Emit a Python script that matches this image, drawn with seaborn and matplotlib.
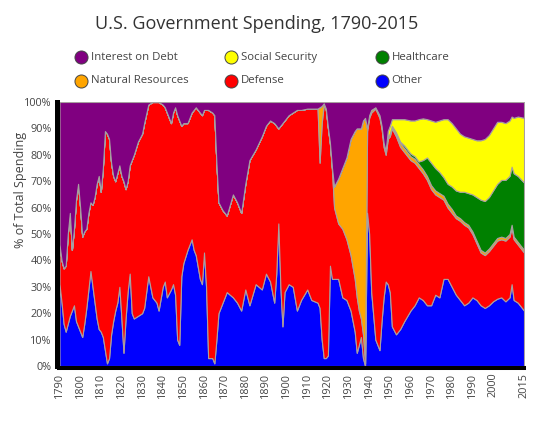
import matplotlib
matplotlib.use("Agg")
import matplotlib.pyplot as plt
import seaborn as sns
import pandas as pd
from matplotlib.lines import Line2D

years = [1790, 1791, 1792, 1793, 1794, 1795, 1796, 1797, 1798, 1799,
         1800, 1801, 1802, 1803, 1804, 1805, 1806, 1807, 1808, 1809,
         1810, 1811, 1812, 1813, 1814, 1815, 1816, 1817, 1818, 1819,
         1820, 1821, 1822, 1823, 1824, 1825, 1826, 1828, 1830, 1831,
         1833, 1835, 1837, 1838, 1840, 1841, 1842, 1844, 1845, 1846,
         1847, 1848, 1849, 1850, 1852, 1854, 1855, 1856, 1858, 1859,
         1860, 1861, 1862, 1864, 1865, 1866, 1867, 1869, 1871, 1874,
         1876, 1878, 1880, 1882, 1885, 1888, 1890, 1892, 1894, 1895,
         1896, 1897, 1898, 1899, 1901, 1903, 1905, 1907, 1910, 1912,
         1915, 1916, 1917, 1918, 1919, 1920, 1921, 1922, 1923, 1925,
         1927, 1929, 1931, 1933, 1934, 1935, 1936, 1937, 1938, 1939,
         1940, 1941, 1943, 1945, 1946, 1947, 1948, 1949, 1950, 1951,
         1953, 1955, 1957, 1960, 1962, 1964, 1966, 1968, 1970, 1972,
         1974, 1976, 1978, 1980, 1982, 1984, 1986, 1988, 1990, 1992,
         1994, 1996, 1998, 2000, 2002, 2004, 2006, 2008, 2009, 2010,
         2012, 2015]

other = [31, 24, 16, 13, 16, 19, 21, 23, 17, 15,
         13, 11, 16, 22, 29, 36, 30, 24, 18, 14,
         13, 11, 6, 1, 3, 12, 17, 21, 24, 30,
         18, 5, 18, 28, 35, 20, 18, 19, 20, 22,
         34, 26, 24, 21, 30, 32, 26, 29, 31, 27,
         10, 8, 34, 39, 44, 48, 44, 42, 33, 31,
         43, 30, 3, 3, 1, 10, 20, 24, 28, 26,
         24, 21, 29, 23, 31, 29, 35, 32, 24, 35,
         54, 30, 15, 28, 31, 30, 21, 25, 29, 25,
         24, 22, 10, 3, 3, 4, 38, 33, 33, 33,
         26, 25, 21, 13, 5, 8, 11, 3, 0, 58,
         50, 28, 10, 6, 17, 26, 32, 31, 28, 15,
         12, 14, 17, 21, 23, 26, 25, 23, 23, 27,
         26, 33, 33, 30, 27, 25, 23, 24, 26, 25,
         23, 22, 23, 24.5, 25.5, 26, 24.5, 26, 31, 25,
         24, 21]

defense = [15, 16, 21, 25, 34, 39, 23, 29, 46, 54,
           47, 38, 35, 30, 29, 26, 31, 40, 51, 58,
           53, 64, 83, 87, 83, 65, 55, 49, 49, 46,
           54, 65, 49, 42, 41, 58, 62, 66, 68, 70,
           65, 74, 76, 79, 69, 66, 70, 63, 65, 71,
           85, 85, 57, 53, 48, 48, 53, 56, 63, 64,
           54, 67, 94, 93, 94, 67, 42, 35, 29, 39,
           38, 37, 40, 55, 51, 58, 56, 61, 68, 56,
           36, 61, 77, 65, 64, 66, 76, 72, 68.5, 72.5,
           73.5, 55, 82, 96, 94, 86, 46, 41, 27, 21,
           26, 23, 21, 20, 21, 13, 7, 9, 1, 31,
           44, 68, 87.5, 88, 73, 57, 48, 55, 59, 75,
           75, 69, 64, 57, 54, 49, 48, 47.5, 44, 38,
           38, 30, 27, 28, 29, 30, 30.5, 28.5, 24, 21.5,
           20, 20, 20.5, 21, 22, 22, 23, 23, 21.5, 23,
           22, 22]

natural_resources = [0] * 90 + [
           0, 21, 6.5, 0.5, 0.5, 0.5, 0.5, 1, 8, 17,
           23, 31, 44, 56, 64, 69, 72, 81, 93, 1,
           1, 1, 0.5, 1, 1, 1.5, 1.5, 1, 1, 1,
           1, 1.5, 1.5, 1.5, 1.5, 1.5, 1.5, 1.5, 1.5, 1.5,
           1.5, 1.5, 1.5, 1.5, 1, 1, 1, 1, 1, 1,
           1, 1, 1, 1, 1, 1, 1, 1, 1, 1,
           1, 1]

healthcare = [0] * 117 + [
           0, 0, 0,
           0.5, 0.5, 1, 1, 1, 1, 3.5, 7, 8.5, 8.5,
           8, 7, 7.5, 8.5, 9.5, 10, 11.5, 12, 14, 16.5,
           19, 19.5, 19.5, 20, 20.5, 21.5, 22, 22, 22, 24,
           25, 25.5]

social_security = [0] * 117 + [
           2, 3, 2.5,
           5, 8.5, 10, 12.5, 13.5, 16, 15.8, 14.5, 16, 17.5,
           19.5, 22, 24.5, 24, 23.5, 22, 21, 21, 21, 21.5,
           22.5, 23.5, 23.5, 23.5, 23.5, 22, 21.5, 21, 19, 21,
           22.5, 24.5]

interest = [54, 60, 63, 62, 50, 42, 56, 48, 37, 31,
            40, 51, 49, 48, 42, 38, 39, 36, 31, 28,
            34, 25, 11, 12, 14, 23, 28, 30, 27, 24,
            28, 30, 33, 30, 24, 22, 20, 15, 12, 8,
            1, 0, 0, 0, 1, 2, 4, 8, 4, 2,
            5, 7, 9, 8, 8, 4, 3, 2, 4, 5,
            3, 3, 3, 4, 5, 23, 38, 41, 43, 35,
            38, 42, 31, 22, 18, 13, 9, 7, 8, 9,
            10, 9, 8, 7, 5, 4, 3, 3, 2.5, 2.5,
            2.5, 2, 1.5, 0.5, 2.5, 9.5, 15.5, 25, 32, 29,
            25, 21, 14, 11, 10, 10, 10, 7, 6, 10,
            5, 3, 2, 5, 9, 15.5, 18.5, 11, 9, 6.5,
            6.5, 6.5, 6.5, 7, 7, 6.5, 6.2, 6.5, 7, 7.5,
            7, 6.5, 6.5, 8, 10, 12, 13, 13.5, 14, 14.5,
            14.5, 14, 12.5, 10, 7.5, 7.5, 8, 7, 5.5, 6,
            5.5, 6]

categories = ["Other", "Defense", "Natural Resources", "Healthcare",
              "Social Security", "Interest on Debt"]
colors = ["#0000ff", "#ff0000", "#ffa500", "#008000", "#ffff00", "#800080"]
xtick_years = [1790, 1800, 1810, 1820, 1830, 1840, 1850, 1860, 1870, 1880,
               1890, 1900, 1910, 1920, 1930, 1940, 1950, 1960, 1970, 1980,
               1990, 2000, 2015]

df = pd.DataFrame({
    "Other": other,
    "Defense": defense,
    "Natural Resources": natural_resources,
    "Healthcare": healthcare,
    "Social Security": social_security,
    "Interest on Debt": interest,
}, index=years)

sns.set_theme(style="white")
plt.rcParams["font.family"] = ["Open Sans", "DejaVu Sans"]

W, H = 560, 436
fig = plt.figure(figsize=(W / 100, H / 100), dpi=100)
ax = fig.add_axes([59.5 / W, 70 / H, 464.5 / W, 264 / H])

ax.stackplot(df.index, [df[c].values for c in categories], colors=colors,
             edgecolor="#a8a0a0", linewidth=0.8)

# spines first (repositioning spines resets tick objects)
for s in ["top", "right"]:
    ax.spines[s].set_visible(False)
ax.spines["left"].set_color("black")
ax.spines["left"].set_linewidth(3.6)
ax.spines["left"].set_position(("outward", 1.9))
ax.spines["bottom"].set_color("black")
ax.spines["bottom"].set_linewidth(2.9)
ax.spines["bottom"].set_position(("outward", 1.4))

ax.set_xlim(1790, 2015)
ax.set_ylim(0, 100)
ax.set_xticks(xtick_years)
ax.set_xticklabels([str(v) for v in xtick_years])
ax.set_yticks(range(0, 101, 10))
ax.set_yticklabels([f"{v}%" for v in range(0, 101, 10)])
ax.tick_params(axis="y", length=0, pad=3.7, labelsize=7.8, labelcolor="#444444")
ax.tick_params(axis="x", length=0, pad=3.4, labelsize=7.8, labelcolor="#444444",
               labelrotation=90)
ax.grid(False)

ax.set_ylabel("% of Total Spending", fontsize=9, color="#444444")
ax.yaxis.set_label_coords(-0.071, 0.667)

fig.text(256.7 / W, 1 - 24 / H, "U.S. Government Spending, 1790-2015",
         ha="center", va="center", fontsize=13, color="#333333")

legend_order = ["Interest on Debt", "Social Security", "Healthcare",
                "Natural Resources", "Defense", "Other"]
col_x = [80.7, 230.7, 381.7]
row_y = [57.3, 80.7]
for i, name in enumerate(legend_order):
    cx = col_x[i % 3]
    cy = row_y[i // 3]
    col = colors[categories.index(name)]
    fig.add_artist(Line2D([cx / W], [1 - cy / H], marker="o", markersize=9.4,
                          markerfacecolor=col, markeredgecolor="#444444",
                          markeredgewidth=0.7, linestyle="none",
                          transform=fig.transFigure))
    fig.text((cx + 10) / W, 1 - cy / H, name, ha="left", va="center",
             fontsize=8.2, color="#444444")

fig.savefig("out.png", dpi=100)
